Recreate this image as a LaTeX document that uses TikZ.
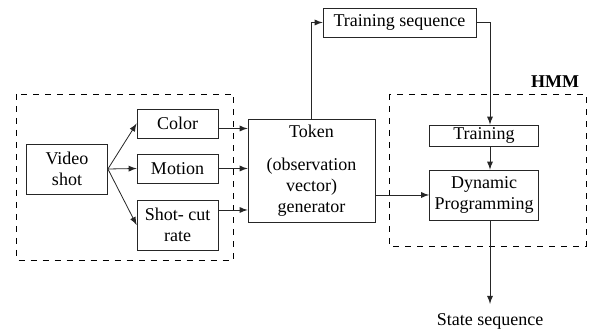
\documentclass[tikz,border=0pt]{standalone}
\usepackage{fontspec}
\setmainfont{Liberation Serif}
\usetikzlibrary{arrows,positioning}

\begin{document}
\begin{tikzpicture}[
                    x=0.5pt,
                    y=-0.5pt,
                    >=latex,
                    semithick,
                    font=\fontsize{9}{10.5}\selectfont
                ]
                \tikzstyle{block}=[draw=black!85,thin,align=center,inner sep=0pt]
                \tikzstyle{group}=[draw=black,thin,dashed]
                \tikzstyle{link}=[->,thin,black!85]

                \useasboundingbox (0,0) rectangle (589,335);

                % dashed groups
                \draw[group] (16.5,94) rectangle (233.5,260);
                \draw[group] (389,94) rectangle (586,246);
                \node[font=\fontsize{9}{10.5}\selectfont\bfseries] (hmm) at (555,82) {HMM};

                % blocks
                \node[block,minimum width=40.5pt,minimum height=25pt]   (video)   at (67,169)    {Video\\shot};
                \node[block,minimum width=40.5pt,minimum height=14.5pt] (color)   at (177.5,123.5) {Color};
                \node[block,minimum width=40.5pt,minimum height=14.5pt] (motion)  at (177.5,168.5) {Motion};
                \node[block,minimum width=40.5pt,minimum height=25pt]   (shotcut) at (177.5,225) {Shot- cut\\rate};
                \node[block,minimum width=63.5pt,minimum height=51.5pt] (token)   at (311.5,170.5)
                    {Token\\[6pt](observation\\vector)\\generator};
                \node[block,minimum width=76.5pt,minimum height=14.5pt] (trainseq) at (399.5,22.5) {Training sequence};
                \node[block,minimum width=54.5pt,minimum height=10.5pt] (training) at (484,135.5) {Training};
                \node[block,minimum width=54.5pt,minimum height=25pt]   (dp)       at (484,195) {Dynamic\\Programming};
                \node (states) at (490,321) {State sequence};

                % connectors
                \draw[link] (video.east) -- (color.west);
                \draw[link] (video.east) -- (motion.west);
                \draw[link] (video.east) -- (shotcut.west);
                \draw[link] ([yshift=-2.5pt]color.east) -- ([yshift=-2.5pt]color.east -| token.west);
                \draw[link] (motion.east) -- (motion.east -| token.west);
                \draw[link] ([yshift=7.5pt]shotcut.east) -- ([yshift=7.5pt]shotcut.east -| token.west);
                \draw[link] (token.north) |- (trainseq.west);
                \draw[link] (trainseq.east) -| ([xshift=3pt]training.north);
                \draw[link] ([xshift=3pt]training.south) -- ([xshift=3pt]dp.north);
                \draw[link] (dp.west -| token.east) -- (dp.west);
                \draw[link] ([xshift=3pt]dp.south) -- ([yshift=1pt]states.north);
            \end{tikzpicture}
\end{document}
